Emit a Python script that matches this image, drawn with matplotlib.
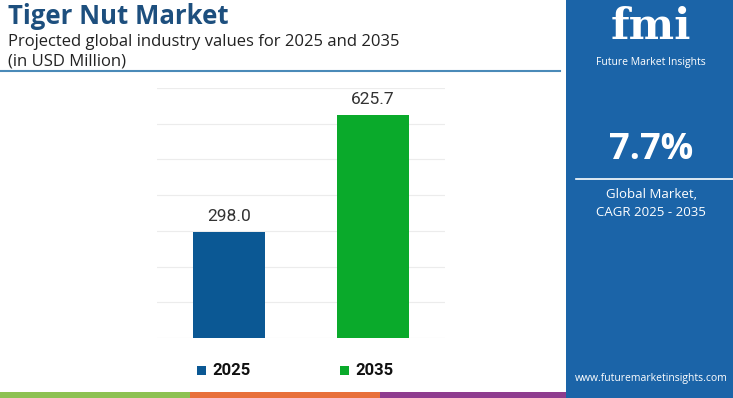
import matplotlib.pyplot as plt
from matplotlib.patches import Rectangle

# data
years = ['2025', '2035']
values = [298.0, 625.7]
bar_colors = ['#0b5894', '#0aaa2b']
cagr_text = '7.7%'

plt.rcParams['font.family'] = ['Open Sans', 'DejaVu Sans']

fig = plt.figure(figsize=(7.33, 3.98), dpi=100)
W, H = 733, 398


def fx(px):
    return px / W


def fy(py):
    return 1 - py / H


# right side panel
fig.patches.append(Rectangle((fx(566), 0), 1 - fx(566), 1, transform=fig.transFigure,
                             facecolor='#1b64a8', edgecolor='none', zorder=0))
# bottom colour strip
strip = [(0, 190, '#8dc152'), (190, 380, '#e8703a'), (380, 566, '#8e3c8e')]
for x0, x1, c in strip:
    fig.patches.append(Rectangle((fx(x0), 0), fx(x1 - x0), 6 / H, transform=fig.transFigure,
                                 facecolor=c, edgecolor='none', zorder=1))

# title block
fig.text(fx(8), fy(16), 'Tiger Nut Market', fontsize=18.5, fontweight='bold',
         color='#1d4f7e', va='center', ha='left')
fig.text(fx(8), fy(42), 'Projected global industry values for 2025 and 2035', fontsize=12,
         color='#222222', va='center', ha='left')
fig.text(fx(8), fy(61), '(in USD Million)', fontsize=12, color='#222222', va='center', ha='left')
fig.add_artist(plt.Line2D([0, fx(560)], [fy(71), fy(71)], transform=fig.transFigure,
                          color='#4a8ab8', lw=1.5))

# bar chart
ax = fig.add_axes([fx(157), fy(338), fx(445 - 157), (338 - 88) / H])
x = range(len(years))
bars = ax.bar(x, values, width=0.5, color=bar_colors, zorder=3)
for b, v in zip(bars, values):
    ax.text(b.get_x() + b.get_width() / 2, v + 22, '{:.1f}'.format(v), ha='center', va='bottom',
            fontsize=12.5, color='#333333', family=['Roboto', 'DejaVu Sans'])
ax.set_xlim(-0.5, 1.5)
ax.set_ylim(0, 700)
ax.set_yticks(range(0, 701, 100))
ax.grid(axis='y', color='#ececec', lw=0.8, zorder=0)
ax.tick_params(left=False, bottom=False, labelleft=False, labelbottom=False)
for s in ax.spines.values():
    s.set_visible(False)

# legend
leg_x = [197, 340]
for lx, yr, c in zip(leg_x, years, bar_colors):
    fig.patches.append(Rectangle((fx(lx), fy(375)), fx(9), 9 / H, transform=fig.transFigure,
                                 facecolor=c, edgecolor='none'))
    fig.text(fx(lx + 15), fy(370.5), yr, fontsize=12, fontweight='bold', color='#111111',
             va='center', ha='left', family=['Roboto', 'DejaVu Sans'])

# panel texts
cx = fx(651)
fig.text(cx, fy(27), 'fmi', fontsize=31, fontweight='bold', color='white', ha='center',
         va='center', family=['DejaVu Serif'])
fig.text(cx, fy(62), 'Future Market Insights', fontsize=7.5, color='white', ha='center', va='center')
fig.text(cx, fy(150), cagr_text, fontsize=26, fontweight='bold', color='white', ha='center', va='center')
fig.add_artist(plt.Line2D([fx(576), 1], [fy(179), fy(179)], transform=fig.transFigure,
                          color='white', lw=1.2))
fig.text(cx, fy(195), 'Global Market,', fontsize=9.5, color='white', ha='center', va='center')
fig.text(cx, fy(212), 'CAGR 2025 - 2035', fontsize=9.5, color='white', ha='center', va='center')
fig.text(cx, fy(378), 'www.futuremarketinsights.com', fontsize=7.5, color='white', ha='center', va='center')

fig.savefig('out.png', dpi=100)
